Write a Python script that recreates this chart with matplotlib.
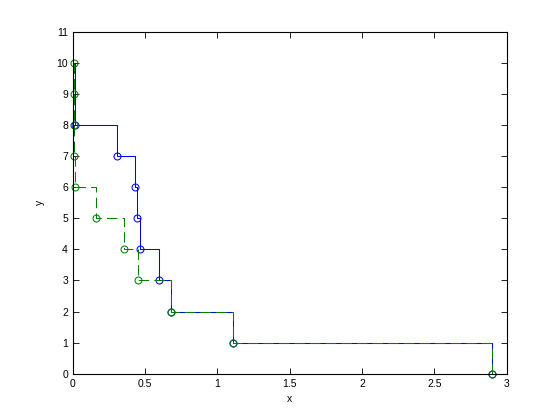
import matplotlib
matplotlib.use("Agg")
import matplotlib.pyplot as plt

# Data
blue_x = [0.012, 0.012, 0.012, 0.306, 0.431, 0.445, 0.463, 0.597, 0.677, 1.106, 2.897]
blue_y = [10, 9, 8, 7, 6, 5, 4, 3, 2, 1, 0]
green_x = [0.005, 0.005, 0.005, 0.005, 0.012, 0.159, 0.353, 0.451, 0.677, 1.106, 2.897]
green_y = [10, 9, 8, 7, 6, 5, 4, 3, 2, 1, 0]
x_ticks = [0, 0.5, 1, 1.5, 2, 2.5, 3]
x_ticklabels = ["0", "0.5", "1", "1.5", "2", "2.5", "3"]
y_ticks = list(range(0, 12))

plt.rcParams['font.family'] = ['Liberation Sans', 'DejaVu Sans']

fig = plt.figure(figsize=(5.6, 4.2), dpi=100)
ax = fig.add_axes([0.13, 0.11, 0.775, 0.815])

ax.plot(blue_x, blue_y, drawstyle='steps-post', color=(0, 0, 1), lw=0.75,
        marker='o', markersize=5, markerfacecolor='none', markeredgewidth=0.75,
        markevery=list(range(2, len(blue_x))), clip_on=False)
ax.plot(green_x, green_y, drawstyle='steps-post', color=(0, 0.5, 0), lw=0.75,
        linestyle=(0, (10, 5)), marker='o', markersize=5, markerfacecolor='none',
        markeredgewidth=0.75, clip_on=False)

ax.set_xlim(0, 3)
ax.set_ylim(0, 11)
ax.set_xticks(x_ticks)
ax.set_xticklabels(x_ticklabels)
ax.set_yticks(y_ticks)
ax.tick_params(direction='in', top=True, right=True, labelsize=7.5, length=4, width=0.6)
for s in ax.spines.values():
    s.set_linewidth(0.8)
ax.set_xlabel('x', fontsize=7.5, labelpad=4)
ax.set_ylabel('y', fontsize=7.5, labelpad=8)

fig.savefig('out.png', dpi=100, facecolor='white')
